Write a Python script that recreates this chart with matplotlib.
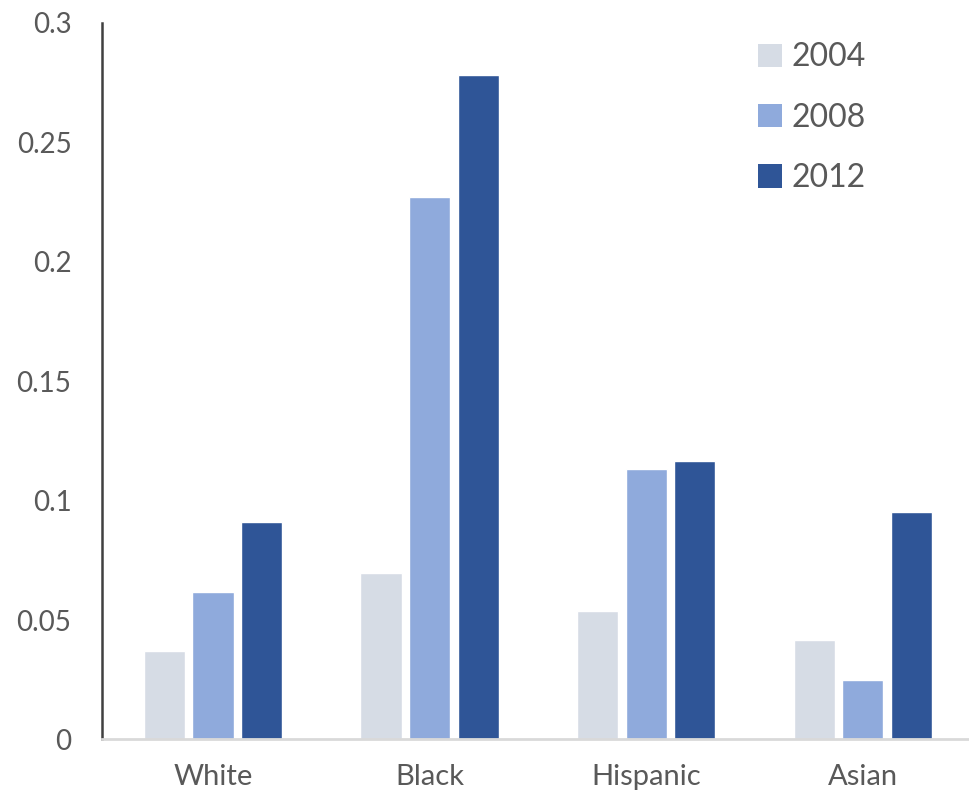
import matplotlib
matplotlib.use("Agg")
import matplotlib.pyplot as plt
import numpy as np
from matplotlib.patches import Patch

categories = ["White", "Black", "Hispanic", "Asian"]
years = ["2004", "2008", "2012"]
v2004 = [0.0371, 0.0697, 0.0538, 0.0415]
v2008 = [0.0618, 0.2272, 0.1131, 0.0249]
v2012 = [0.0911, 0.2783, 0.1165, 0.0953]
yticks = [0, 0.05, 0.1, 0.15, 0.2, 0.25, 0.3]
ytick_labels = ["0", "0.05", "0.1", "0.15", "0.2", "0.25", "0.3"]
colors = ["#D6DCE5", "#8FAADC", "#2F5597"]

plt.rcParams['font.family'] = ['Lato', 'DejaVu Sans']
fig = plt.figure(figsize=(9.69, 7.93), dpi=100)
ax = fig.add_axes([0.1053, 0.0675, 0.8947, 0.9035])

x = np.arange(len(categories))
offsets = [-0.224, 0, 0.224]
series = [v2004, v2008, v2012]
for s, off, c, lab in zip(series, offsets, colors, years):
    ax.bar(x + off, s, width=0.19, color=c, edgecolor="white", linewidth=1, label=lab)

ax.set_xlim(-0.512, 3.49)
ax.set_ylim(0, 0.3)
ax.set_yticks(yticks)
ax.set_yticklabels(ytick_labels)
ax.set_xticks(x)
ax.set_xticklabels(categories)
ax.tick_params(axis='y', length=0, pad=22, labelsize=20, labelcolor="#595959")
ax.tick_params(axis='x', length=0, pad=18, labelsize=21, labelcolor="#595959")
for sp in ["top", "right"]:
    ax.spines[sp].set_visible(False)
ax.spines["left"].set_color("#404040")
ax.spines["left"].set_linewidth(1.8)
ax.spines["bottom"].set_color("#D9D9D9")
ax.spines["bottom"].set_linewidth(2)

handles = [Patch(facecolor=c, edgecolor="none") for c in colors]
leg = ax.legend(handles, years, loc="upper left", bbox_to_anchor=(0.757, 0.973),
                frameon=False, fontsize=23, handlelength=0.75, handleheight=0.75,
                handletextpad=0.3, labelspacing=0.95, borderpad=0, borderaxespad=0,
                labelcolor="#595959")

fig.savefig("out.png", dpi=100)
